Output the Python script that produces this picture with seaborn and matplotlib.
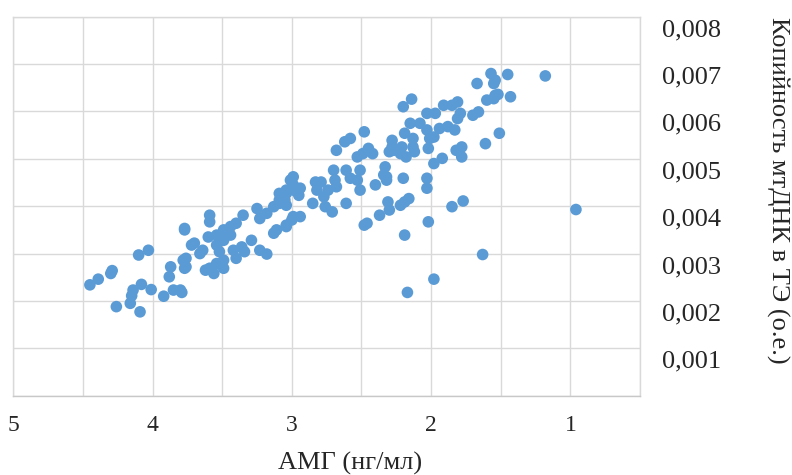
import matplotlib
matplotlib.use("Agg")
import matplotlib.pyplot as plt
import matplotlib.transforms as mtransforms
from matplotlib.ticker import FixedLocator, FuncFormatter, MultipleLocator
import numpy as np
import pandas as pd
import seaborn as sns

# АМГ (нг/мл)
amh = [
    4.45, 4.39, 4.30, 4.29, 4.10, 4.03, 4.26, 4.09, 4.16, 4.15, 4.14, 4.08, 4.01, 3.92, 3.85, 3.79,
    3.88, 3.87, 3.77, 3.76, 3.72, 3.77,
    3.77, 3.59, 3.59, 3.70, 3.64, 3.60, 3.54, 3.49, 3.44, 3.40, 3.35, 3.25, 3.23, 3.18, 3.13, 3.09,
    3.04, 2.99, 3.01, 3.09, 3.04, 3.13, 3.11, 3.04, 2.99, 3.29, 3.23, 3.18, 3.42, 3.36, 3.34, 3.40,
    3.49, 3.54, 3.59, 3.62, 3.56, 3.49, 3.66, 3.78, 3.76, 3.54, 3.49, 3.44, 3.52, 3.80,
    2.99, 2.99, 3.04, 2.94, 3.05, 2.95, 2.83, 2.79, 2.82, 2.70, 2.69, 2.61, 2.58, 2.74, 2.68, 2.77,
    2.85, 2.76, 2.71, 2.61, 2.51, 2.53, 2.51, 2.53, 2.49, 2.45, 2.42, 2.48, 2.68, 2.62, 2.58, 2.40,
    2.33, 2.34, 2.32, 2.28, 2.27, 2.31, 2.30, 2.37, 2.46, 2.94, 3.00, 3.04, 3.09,
    2.20, 2.14, 2.03, 1.97, 1.91, 1.85, 1.81, 1.79, 1.81, 1.67, 1.55, 1.60, 1.54, 1.70, 1.66, 2.15,
    2.08, 2.03, 1.94, 1.88, 1.83, 2.19, 2.13, 2.28, 2.30, 2.21, 2.13, 2.01, 1.98, 2.02, 2.22, 2.18,
    2.12, 1.82, 1.78, 1.78, 1.92, 1.98, 1.61, 1.51, 2.32, 2.20, 2.03, 2.03,
    1.57, 1.54, 1.45, 1.18, 1.55, 1.52, 1.43,
    2.22, 2.19, 2.16, 2.02, 2.19, 1.85, 1.77, 0.96, 1.63, 1.98, 2.17, 2.48,
]

# Копийность мтДНК в ТЭ (о.е.)
mtdna = [
    0.00234, 0.00246, 0.00258, 0.00264, 0.00297, 0.00307, 0.00188, 0.00177, 0.00195, 0.00211, 0.00223,
    0.00235, 0.00224, 0.00210, 0.00223, 0.00218, 0.00251, 0.00272, 0.00269, 0.00290, 0.00318, 0.00350,
    0.00353, 0.00381, 0.00367, 0.00322, 0.00307, 0.00335, 0.00339, 0.00350, 0.00357, 0.00364, 0.00381,
    0.00395, 0.00374, 0.00385, 0.00399, 0.00406, 0.00427, 0.00434, 0.00455, 0.00413, 0.00402, 0.00343,
    0.00350, 0.00360, 0.00378, 0.00328, 0.00307, 0.00299, 0.00307, 0.00314, 0.00304, 0.00290, 0.00286,
    0.00279, 0.00269, 0.00265, 0.00258, 0.00269, 0.00300, 0.00286, 0.00272, 0.00318, 0.00328, 0.00339,
    0.00304, 0.00223,
    0.00462, 0.00445, 0.00434, 0.00438, 0.00413, 0.00423, 0.00451, 0.00451, 0.00434, 0.00476, 0.00455,
    0.00476, 0.00459, 0.00434, 0.00441, 0.00420, 0.00406, 0.00399, 0.00388, 0.00406, 0.00434, 0.00455,
    0.00476, 0.00504, 0.00511, 0.00522, 0.00511, 0.00557, 0.00518, 0.00536, 0.00543, 0.00445, 0.00483,
    0.00466, 0.00455, 0.00539, 0.00518, 0.00409, 0.00392, 0.00381, 0.00364, 0.00378, 0.00371, 0.00357,
    0.00427,
    0.00610, 0.00626, 0.00596, 0.00596, 0.00613, 0.00613, 0.00620, 0.00596, 0.00585, 0.00659, 0.00659,
    0.00624, 0.00634, 0.00592, 0.00599, 0.00575, 0.00575, 0.00561, 0.00564, 0.00568, 0.00561, 0.00554,
    0.00543, 0.00525, 0.00515, 0.00525, 0.00525, 0.00543, 0.00546, 0.00522, 0.00511, 0.00504, 0.00515,
    0.00518, 0.00525, 0.00504, 0.00501, 0.00490, 0.00532, 0.00554, 0.00462, 0.00459, 0.00459, 0.00438,
    0.00680, 0.00666, 0.00678, 0.00675, 0.00627, 0.00636, 0.00631,
    0.00402, 0.00409, 0.00416, 0.00367, 0.00339, 0.00399, 0.00411, 0.00393, 0.00298, 0.00246, 0.00218,
    0.00360,
]

x_ticks = [5, 4, 3, 2, 1]
y_ticks = [0.001, 0.002, 0.003, 0.004, 0.005, 0.006, 0.007, 0.008]

df = pd.DataFrame({"amh": amh, "mtdna": mtdna})

sns.set_style("white")
plt.rcParams["font.family"] = ["Liberation Serif", "DejaVu Serif"]

fig = plt.figure(figsize=(7.92, 4.75), dpi=100)
ax = fig.add_axes([13.3 / 792, 1 - 395.7 / 475, (640 - 13.3) / 792, (395.7 - 16.7) / 475])

sns.scatterplot(data=df, x="amh", y="mtdna", ax=ax, color="#5B9BD5", s=70,
                edgecolor="none", linewidth=0, zorder=3)

ax.set_xlim(5, 0.5)
ax.set_ylim(0, 0.008)

# grid
ax.xaxis.set_minor_locator(MultipleLocator(0.5))
ax.xaxis.set_major_locator(FixedLocator(x_ticks))
ax.yaxis.set_major_locator(FixedLocator([0.0] + y_ticks))
ax.grid(True, which="both", axis="x", color="#d9d9d9", linewidth=1.0, zorder=0)
ax.grid(True, which="major", axis="y", color="#d9d9d9", linewidth=1.0, zorder=0)
ax.set_axisbelow(True)

for side in ["left", "right", "top"]:
    ax.spines[side].set_color("#d9d9d9")
    ax.spines[side].set_linewidth(1.0)
ax.spines["bottom"].set_color("#c8c8c8")
ax.spines["bottom"].set_linewidth(1.0)

ax.yaxis.tick_right()
ax.yaxis.set_label_position("right")

def yfmt(v, pos):
    if v == 0:
        return ""
    return f"{v:.3f}".replace(".", ",")

ax.yaxis.set_major_formatter(FuncFormatter(yfmt))
ax.xaxis.set_major_formatter(FuncFormatter(lambda v, p: f"{int(round(v))}"))

ax.tick_params(axis="y", which="both", length=0, pad=16, labelsize=19)
ax.tick_params(axis="x", which="both", length=0, pad=14, labelsize=17)

offset = mtransforms.ScaledTranslation(0, -0.11, fig.dpi_scale_trans)
for lab in ax.get_yticklabels():
    lab.set_transform(lab.get_transform() + offset)

ax.set_xlabel("АМГ (нг/мл)", fontsize=19)
ax.xaxis.set_label_coords(0.537, -0.178)
ax.xaxis.label.set_verticalalignment("center")

ax.set_ylabel("Копийность мтДНК в ТЭ (о.е.)", fontsize=19, rotation=270)
ax.yaxis.set_label_coords(1.2202, 0.543)
ax.yaxis.label.set_verticalalignment("center")
ax.yaxis.label.set_horizontalalignment("center")

fig.savefig("out.png", dpi=100)
